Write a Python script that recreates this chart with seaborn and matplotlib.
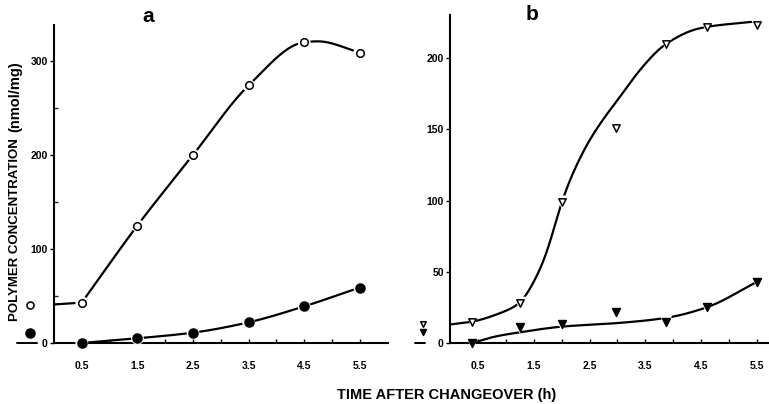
import numpy as np
import pandas as pd
import matplotlib
matplotlib.use("Agg")
import matplotlib.pyplot as plt
import seaborn as sns

# ---------------- data ----------------
time_a = [0.5, 1.5, 2.5, 3.5, 4.5, 5.5]
a_open = [43, 125, 200, 274, 320, 309]
a_filled = [0, 5, 11, 22, 39, 59]
a_pre_x = [-0.43]
a_pre_open = [40]
a_pre_filled = [11]
a_open_start = [41, 43]          # level of the line joining the axis to 0.5 h

time_b = [0.4, 1.25, 2.0, 2.97, 3.87, 4.6, 5.5]
b_open = [15, 28, 99, 151, 210, 222, 223]
b_filled = [0, 11, 13, 22, 15, 25, 43]
b_pre_x = [-0.48]
b_pre_open = [13]
b_pre_filled = [8]

# drawn (fitted) curves
a_open_curve_x = [0.5, 1.5, 2.5, 3.5, 4.5, 4.75, 5.5]
a_open_curve_y = [43, 125, 200, 274, 320, 321, 309]
b_open_curve_x = [0.0, 0.4, 0.9, 1.25, 1.49, 1.73, 1.86, 2.0, 2.21, 2.45,
                  2.69, 3.05, 3.41, 3.87, 4.48, 5.56]
b_open_curve_y = [13, 15, 21, 28, 42, 63, 80, 99, 120, 139, 154, 173, 192,
                  210, 221, 226]
b_filled_curve_x = [0.4, 0.8, 1.25, 2.0, 3.0, 3.85, 4.6, 5.5]
b_filled_curve_y = [0, 4.5, 7.5, 11.5, 14, 17.5, 25, 43]

xticks = [0.5, 1.5, 2.5, 3.5, 4.5, 5.5]
xtick_labels = ["0.5", "1.5", "2.5", "3.5", "4.5", "5.5"]
yticks_a = [0, 100, 200, 300]
yticks_b = [0, 50, 100, 150, 200]


def pchip(xs, ys, n=400):
    x = np.asarray(xs, float)
    y = np.asarray(ys, float)
    h = np.diff(x)
    d = np.diff(y) / h
    m = np.zeros_like(x)
    for k in range(1, len(x) - 1):
        if d[k - 1] * d[k] <= 0:
            m[k] = 0.0
        else:
            w1 = 2 * h[k] + h[k - 1]
            w2 = h[k] + 2 * h[k - 1]
            m[k] = (w1 + w2) / (w1 / d[k - 1] + w2 / d[k])
    m[0] = d[0]
    m[-1] = d[-1]
    xn = np.linspace(x[0], x[-1], n)
    idx = np.clip(np.searchsorted(x, xn) - 1, 0, len(x) - 2)
    t = (xn - x[idx]) / h[idx]
    h00 = 2 * t ** 3 - 3 * t ** 2 + 1
    h10 = t ** 3 - 2 * t ** 2 + t
    h01 = -2 * t ** 3 + 3 * t ** 2
    h11 = t ** 3 - t ** 2
    yn = (h00 * y[idx] + h10 * h[idx] * m[idx] + h01 * y[idx + 1]
          + h11 * h[idx] * m[idx + 1])
    return xn, yn


def smooth_curve(xs, ys, sigma=0.07):
    """Pen-like smoothing of the drawn line (removes small kinks)."""
    xn, yn = pchip(xs, ys)
    dx = xn[1] - xn[0]
    s = sigma / dx
    half = int(3 * s)
    k = np.exp(-0.5 * (np.arange(-half, half + 1) / s) ** 2)
    k /= k.sum()
    left = yn[0] - (yn[1] - yn[0]) * np.arange(half, 0, -1)
    right = yn[-1] + (yn[-1] - yn[-2]) * np.arange(1, half + 1)
    ypad = np.concatenate([left, yn, right])
    ys_s = np.convolve(ypad, k, mode="valid")
    return xn, ys_s


sns.set_theme(style="white")
plt.rcParams["font.family"] = ["Liberation Sans", "DejaVu Sans"]
plt.rcParams["font.weight"] = "bold"
plt.rcParams["text.color"] = "black"

fig = plt.figure(figsize=(7.69, 4.04), dpi=100)
ax_a = fig.add_axes([0.0196, 0.1277, 0.4880, 0.8097])
ax_b = fig.add_axes([0.5344, 0.1298, 0.4645, 0.8324])

LW = 1.6
HALO = 85


def draw_points(ax, x, y, marker, filled, s):
    sns.scatterplot(x=x, y=y, ax=ax, s=HALO, marker=marker, color="white",
                    edgecolor="none", zorder=3, clip_on=False, legend=False)
    sns.scatterplot(x=x, y=y, ax=ax, s=s, marker=marker,
                    color="black" if filled else "white", edgecolor="black",
                    linewidth=1.1, zorder=4, clip_on=False, legend=False)


def draw_curve(ax, xs, ys, sigma=0.07):
    cx, cy = smooth_curve(xs, ys, sigma)
    sns.lineplot(x=cx, y=cy, ax=ax, color="black", linewidth=LW, sort=False,
                 estimator=None, zorder=2)


# ---------------- panel a ----------------
draw_curve(ax_a, a_open_curve_x, a_open_curve_y, 0.05)
draw_curve(ax_a, time_a, a_filled, 0.05)
sns.lineplot(x=[0, time_a[0]], y=a_open_start, ax=ax_a, color="black",
             linewidth=LW, estimator=None, sort=False, zorder=2)
draw_points(ax_a, time_a, a_open, "o", False, 30)
draw_points(ax_a, time_a, a_filled, "o", True, 42)
draw_points(ax_a, a_pre_x, a_pre_open, "o", False, 26)
draw_points(ax_a, a_pre_x, a_pre_filled, "o", True, 42)
ax_a.plot([-0.66, -0.3], [0, 0], color="black", lw=1.4, clip_on=False)

ax_a.set_xlim(-0.7, 6.05)
ax_a.set_ylim(-10, 338)
ax_a.spines["left"].set_position(("data", 0))
ax_a.spines["bottom"].set_position(("data", 0))
ax_a.spines["left"].set_bounds(0, 338)
ax_a.spines["bottom"].set_bounds(0, 6.0)
ax_a.set_yticks(yticks_a)
ax_a.set_yticks([50, 150, 250], minor=True)

# ---------------- panel b ----------------
draw_curve(ax_b, b_open_curve_x, b_open_curve_y, 0.08)
draw_curve(ax_b, b_filled_curve_x, b_filled_curve_y, 0.08)
draw_points(ax_b, time_b, b_open, "v", False, 28)
draw_points(ax_b, time_b, b_filled, "v", True, 32)
draw_points(ax_b, b_pre_x, b_pre_open, "v", False, 16)
draw_points(ax_b, b_pre_x, b_pre_filled, "v", True, 18)
ax_b.plot([-0.63, -0.45], [0, 0], color="black", lw=1.4, clip_on=False)

ax_b.set_xlim(-0.7, 5.7)
ax_b.set_ylim(-6, 230)
ax_b.spines["left"].set_position(("data", 0))
ax_b.spines["bottom"].set_position(("data", 0))
ax_b.spines["left"].set_bounds(0, 230)
ax_b.spines["bottom"].set_bounds(0, 5.7)
ax_b.set_yticks(yticks_b)

for ax in (ax_a, ax_b):
    ax.set_facecolor("none")
    for side in ("top", "right"):
        ax.spines[side].set_visible(False)
    for side in ("left", "bottom"):
        ax.spines[side].set_color("black")
        ax.spines[side].set_linewidth(1.5)
    ax.set_xticks(xticks)
    ax.set_xticklabels(xtick_labels)
    ax.set_xticks([1, 2, 3, 4, 5], minor=True)
    ax.tick_params(axis="x", which="both", direction="in", length=3, width=1,
                   pad=13, labelsize=7.5, colors="black")
    ax.tick_params(axis="y", which="major", direction="out", length=3, width=1,
                   pad=1.5, labelsize=7.5, colors="black")
    ax.tick_params(axis="y", which="minor", direction="in", length=3, width=1,
                   left=True)
    ax.xaxis.set_ticks_position("bottom")
    ax.yaxis.set_ticks_position("left")
    for lab in ax.get_xticklabels() + ax.get_yticklabels():
        lab.set_fontweight("bold")
    ax.grid(False)
    ax.set_xlabel("")
    ax.set_ylabel("")

# ---------------- texts ----------------
fig.text(148 / 769, 1 - 17 / 404, "a", ha="center", va="center",
         fontsize=15, fontweight="bold", color="black")
fig.text(532 / 769, 1 - 15 / 404, "b", ha="center", va="center",
         fontsize=15, fontweight="bold", color="black")
fig.text(447 / 769, 1 - 395 / 404, "TIME AFTER CHANGEOVER (h)", ha="center",
         va="center", fontsize=10.5, fontweight="bold", color="black")
fig.text(15 / 769, 1 - 230 / 404, "POLYMER CONCENTRATION", rotation=90,
         ha="center", va="center", fontsize=9.5, fontweight="bold", color="black")
fig.text(15 / 769, 1 - 97 / 404, "(nmol/mg)", rotation=90,
         ha="center", va="center", fontsize=10.5, fontweight="bold", color="black")

fig.savefig("out.png", dpi=100, facecolor="white")
